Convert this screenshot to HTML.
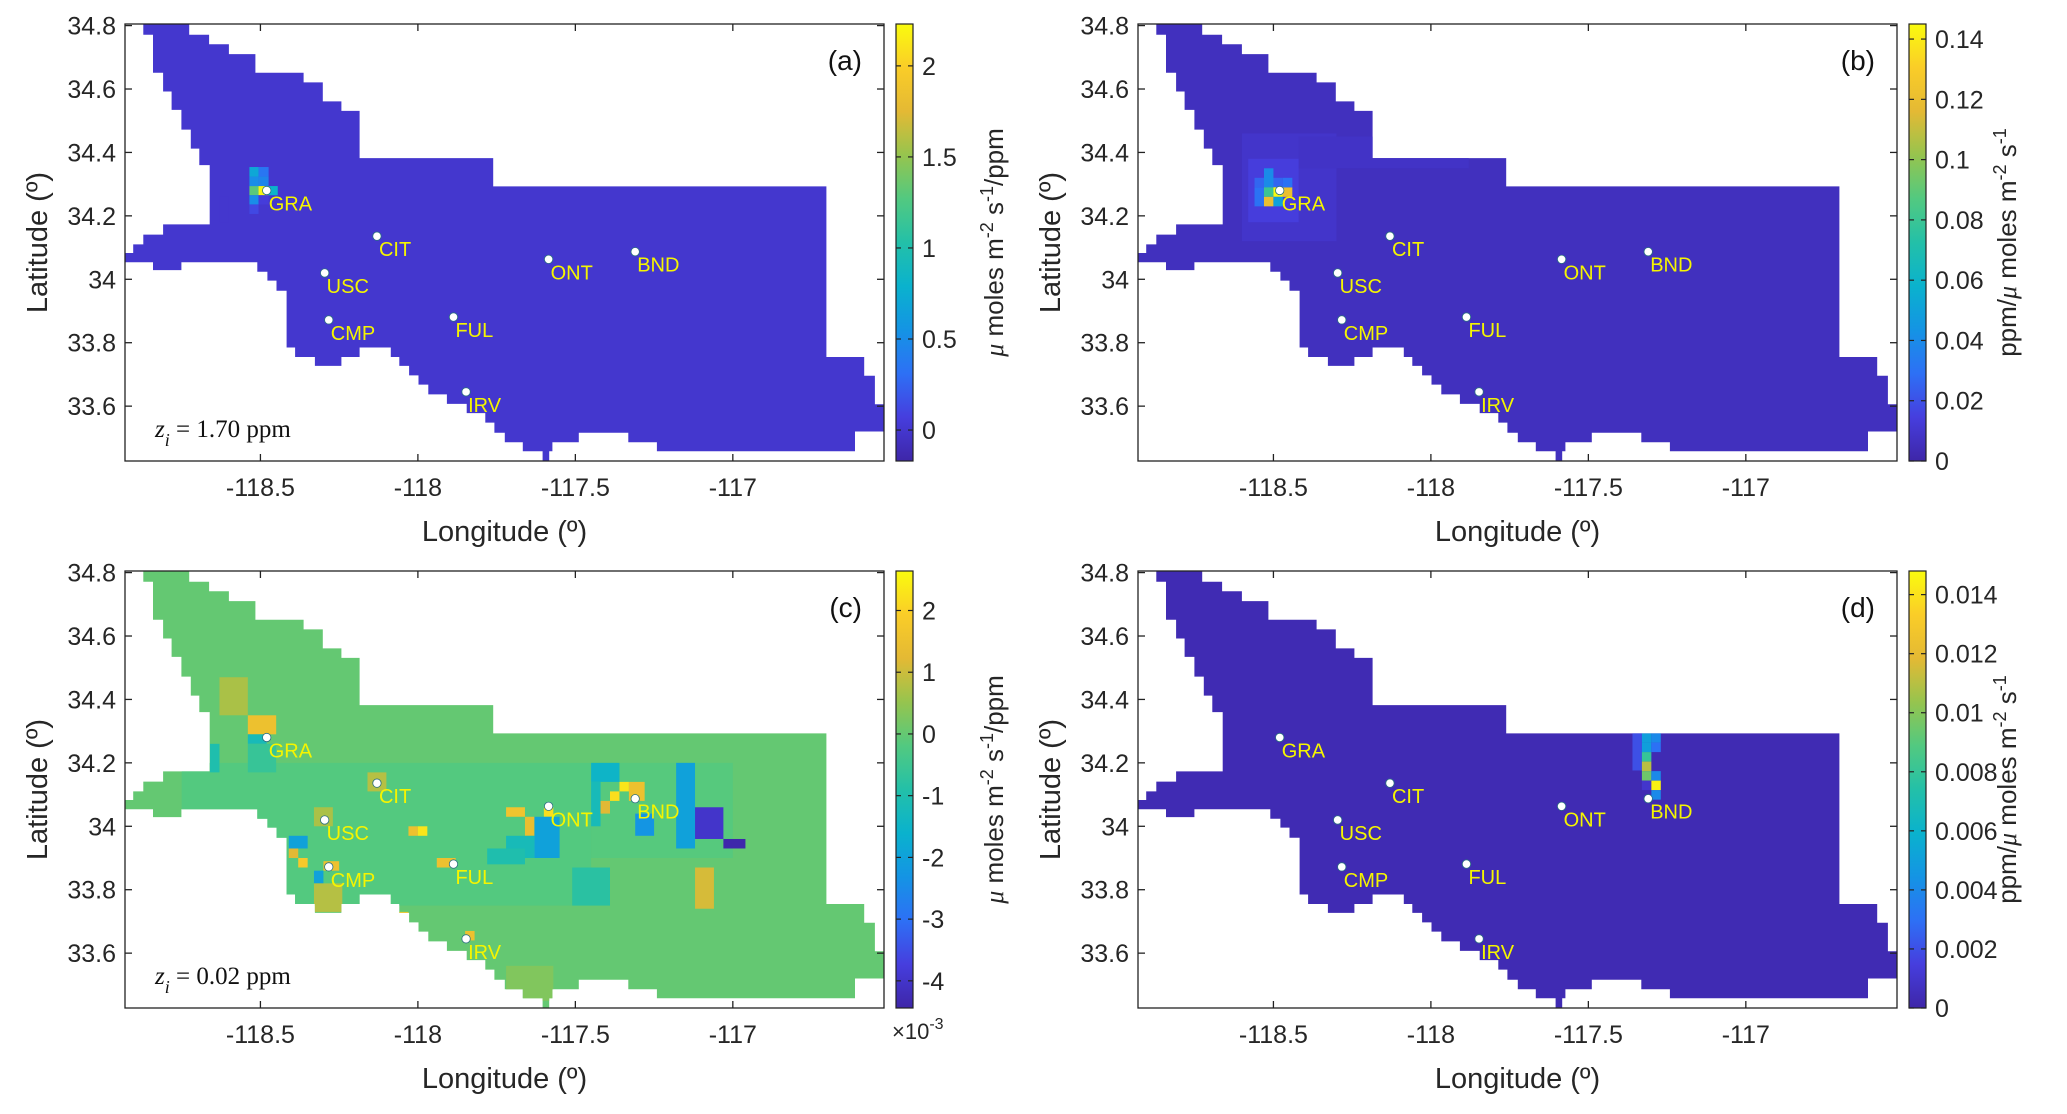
<!DOCTYPE html>
<html><head><meta charset="utf-8"><style>
html,body{margin:0;padding:0;background:#fff;}
svg{display:block;font-family:"Liberation Sans",Arial,sans-serif;}
</style></head><body>
<svg id="fig" width="2067" height="1114" viewBox="0 0 2067 1114"></svg>
<script>
// ---- data ----
const xTicks = [-118.5, -118, -117.5, -117];
const xTickLabels = ["-118.5", "-118", "-117.5", "-117"];
const yTicks = [33.6, 33.8, 34, 34.2, 34.4, 34.6, 34.8];
const yTickLabels = ["33.6", "33.8", "34", "34.2", "34.4", "34.6", "34.8"];
const boundaryLon = [-118.872,-118.726,-118.726,-118.663,-118.663,-118.600,-118.600,-118.516,-118.516,-118.363,-118.363,-118.302,-118.302,-118.243,-118.243,-118.185,-118.185,-117.761,-117.761,-116.703,-116.703,-116.583,-116.583,-116.549,-116.549,-116.520,-116.520,-116.612,-116.612,-117.241,-117.241,-117.332,-117.332,-117.489,-117.489,-117.573,-117.573,-117.583,-117.583,-117.604,-117.604,-117.667,-117.667,-117.724,-117.724,-117.757,-117.757,-117.786,-117.786,-117.845,-117.845,-117.908,-117.908,-117.967,-117.967,-117.998,-117.998,-118.028,-118.028,-118.059,-118.059,-118.086,-118.086,-118.185,-118.185,-118.243,-118.243,-118.327,-118.327,-118.390,-118.390,-118.417,-118.417,-118.449,-118.449,-118.478,-118.478,-118.510,-118.510,-118.751,-118.751,-118.841,-118.841,-118.930,-118.930,-118.904,-118.904,-118.872,-118.872,-118.809,-118.809,-118.661,-118.661,-118.694,-118.694,-118.721,-118.721,-118.751,-118.751,-118.782,-118.782,-118.809,-118.809,-118.841,-118.841,-118.872];
const boundaryLat = [34.805,34.805,34.771,34.771,34.741,34.741,34.710,34.710,34.651,34.651,34.621,34.621,34.561,34.561,34.531,34.531,34.382,34.382,34.293,34.293,33.755,33.755,33.696,33.696,33.606,33.606,33.520,33.520,33.458,33.458,33.486,33.486,33.516,33.516,33.486,33.486,33.458,33.458,33.427,33.427,33.458,33.458,33.486,33.486,33.516,33.516,33.548,33.548,33.578,33.578,33.607,33.607,33.637,33.637,33.668,33.668,33.697,33.697,33.727,33.727,33.755,33.755,33.785,33.785,33.755,33.755,33.727,33.727,33.755,33.755,33.785,33.785,33.964,33.964,33.996,33.996,34.024,34.024,34.054,34.054,34.029,34.029,34.054,34.054,34.083,34.083,34.110,34.110,34.141,34.141,34.173,34.173,34.360,34.360,34.412,34.412,34.472,34.472,34.534,34.534,34.592,34.592,34.651,34.651,34.771,34.771];
const siteNames = ["GRA","CIT","USC","ONT","BND","CMP","FUL","IRV"];
const siteLon = [-118.48,-118.13,-118.296,-117.585,-117.31,-118.283,-117.887,-117.847];
const siteLat = [34.28,34.136,34.02,34.063,34.087,33.872,33.881,33.645];

// cells: [lonMin, lonMax, latMin, latMax, value]
const cellsA = [
 [-118.535,-118.506,34.265,34.294,1.3],[-118.506,-118.474,34.265,34.294,2.2],[-118.474,-118.445,34.265,34.294,0.8],
 [-118.535,-118.506,34.294,34.324,0.5],[-118.506,-118.474,34.294,34.324,0.45],
 [-118.535,-118.506,34.324,34.354,0.7],[-118.506,-118.474,34.324,34.354,0.35],
 [-118.535,-118.506,34.236,34.265,0.5],[-118.506,-118.474,34.236,34.265,0.05],
 [-118.535,-118.506,34.206,34.236,0.12],[-118.63,-118.60,34.18,34.26,0.0]
];
const cellsB = [
 [-118.60,-118.30,34.12,34.46,0.009],[-118.42,-117.88,34.35,34.45,0.008],
 [-118.58,-118.42,34.18,34.38,0.014],[-118.56,-118.53,34.23,34.29,0.03],
 [-118.56,-118.47,34.29,34.32,0.026],[-118.53,-118.50,34.29,34.35,0.04],
 [-118.53,-118.50,34.26,34.29,0.08],[-118.50,-118.47,34.26,34.29,0.145],[-118.47,-118.44,34.26,34.29,0.12],
 [-118.53,-118.50,34.23,34.26,0.12],[-118.50,-118.47,34.23,34.26,0.05],[-118.47,-118.44,34.29,34.32,0.03]
];
const cellsC = [
 [-118.75,-117.45,33.75,34.2,-0.18],[-117.45,-117.0,33.9,34.2,-0.15],
 [-118.63,-118.54,34.35,34.47,0.7],[-118.54,-118.45,34.29,34.35,1.5],[-118.54,-118.48,34.26,34.29,-1.2],
 [-118.66,-118.63,34.17,34.26,-1.0],[-118.54,-118.45,34.17,34.26,-0.6],
 [-118.16,-118.10,34.11,34.17,0.8],[-118.33,-118.27,34.0,34.06,0.7],
 [-118.03,-118.00,33.97,34.0,1.5],[-118.00,-117.97,33.97,34.0,2.3],
 [-118.41,-118.35,33.93,33.97,-2.0],[-118.41,-118.38,33.90,33.93,1.2],[-118.38,-118.35,33.87,33.90,1.8],
 [-118.30,-118.25,33.86,33.89,1.5],[-118.33,-118.30,33.82,33.86,-2.0],[-118.33,-118.24,33.73,33.82,0.8],
 [-117.94,-117.88,33.87,33.9,1.5],[-118.06,-118.03,33.70,33.73,1.8],[-117.85,-117.82,33.64,33.67,1.5],
 [-117.72,-117.66,34.03,34.06,1.6],[-117.66,-117.63,33.97,34.03,1.4],[-117.60,-117.57,34.03,34.06,2.2],
 [-117.63,-117.55,33.90,34.03,-2.0],[-117.72,-117.63,33.90,33.97,-1.2],
 [-117.45,-117.36,34.14,34.20,-1.5],[-117.45,-117.42,34.00,34.14,-1.2],
 [-117.39,-117.36,34.08,34.11,2.2],[-117.36,-117.33,34.11,34.14,2.3],[-117.33,-117.28,34.08,34.14,1.5],
 [-117.42,-117.39,34.04,34.08,1.2],[-117.31,-117.25,33.97,34.04,-2.3],
 [-117.18,-117.12,33.93,34.20,-2.0],[-117.12,-117.03,33.96,34.06,-4.0],[-117.03,-116.96,33.93,33.96,-4.4],
 [-117.12,-117.06,33.74,33.87,1.1],[-117.51,-117.39,33.75,33.87,-0.8],[-117.78,-117.66,33.88,33.93,-1.0],
 [-117.72,-117.57,33.45,33.56,0.3]
];
const cellsD = [
 [-117.36,-117.33,34.176,34.294,0.002],
 [-117.33,-117.30,34.264,34.294,0.005],[-117.30,-117.27,34.264,34.294,0.004],
 [-117.33,-117.30,34.234,34.264,0.005],[-117.30,-117.27,34.234,34.264,0.003],
 [-117.33,-117.30,34.204,34.234,0.008],[-117.33,-117.30,34.174,34.204,0.011],
 [-117.33,-117.30,34.144,34.174,0.0095],[-117.30,-117.27,34.144,34.174,0.004],
 [-117.33,-117.30,34.114,34.144,0.001],[-117.30,-117.27,34.114,34.144,0.0145],
 [-117.30,-117.27,34.084,34.114,0.004]
];
const cbTicksA = [0,0.5,1,1.5,2], cbLabelsA = ["0","0.5","1","1.5","2"];
const cbTicksB = [0,0.02,0.04,0.06,0.08,0.1,0.12,0.14], cbLabelsB = ["0","0.02","0.04","0.06","0.08","0.1","0.12","0.14"];
const cbTicksC = [-4,-3,-2,-1,0,1,2], cbLabelsC = ["-4","-3","-2","-1","0","1","2"];
const cbTicksD = [0,0.002,0.004,0.006,0.008,0.01,0.012,0.014], cbLabelsD = ["0","0.002","0.004","0.006","0.008","0.01","0.012","0.014"];

// ---- drawing ----
const NS = "http://www.w3.org/2000/svg";
const svg = document.getElementById("fig");
const W = 759, H = 437, LON0 = -118.93, LON1 = -116.52, LAT0 = 33.427, LAT1 = 34.805;
const parula = [[0,62,38,168],[0.1,70,62,222],[0.2,45,112,245],[0.3,20,148,228],[0.4,10,178,205],[0.5,35,192,168],[0.6,82,201,128],[0.7,150,196,78],[0.8,228,185,52],[0.9,250,205,40],[1,249,251,14]];
function cmap(f){f=Math.max(0,Math.min(1,f));for(let i=1;i<parula.length;i++){if(f<=parula[i][0]){const a=parula[i-1],b=parula[i],t=(f-a[0])/(b[0]-a[0]);return "rgb("+[1,2,3].map(k=>Math.round(a[k]+t*(b[k]-a[k]))).join(",")+")";}}return "rgb(249,251,14)";}
function el(tag, attrs, parent){const e=document.createElementNS(NS,tag);for(const k in attrs)e.setAttribute(k,attrs[k]);(parent||svg).appendChild(e);return e;}

function panel(id, L, T, cells, base, cmin, cmax, cbT, cbL, cbLabel, letter, note, exp){
  const g = el("g",{});
  
  
  const sx = v => L + (v-LON0)/(LON1-LON0)*W;
  const sy = v => T + (LAT1-v)/(LAT1-LAT0)*H;
  const col = v => cmap((v-cmin)/(cmax-cmin));
  const cp = el("clipPath",{id:"clip-"+id}, g);
  const pts = boundaryLon.map((x,i)=>sx(x).toFixed(1)+","+sy(boundaryLat[i]).toFixed(1)).join(" ");
  el("polygon",{points:pts}, cp);
  const dom = el("polygon",{points:pts, fill:col(base)}, g);
  
  
  const cg = el("g",{"clip-path":"url(#clip-"+id+")"}, g);
  cells.forEach(c=>{
    const r = el("rect",{x:sx(c[0]),y:sy(c[3]),width:sx(c[1])-sx(c[0]),height:sy(c[2])-sy(c[3]),fill:col(c[4])}, cg);
    
    
  });
  siteNames.forEach((n,i)=>{
    const d = el("circle",{cx:sx(siteLon[i]),cy:sy(siteLat[i]),r:4.2,fill:"#fff",stroke:"#2a6f80","stroke-width":0.8}, g);
    
    
    const t = el("text",{x:sx(siteLon[i])+2,y:sy(siteLat[i])+20,fill:"#f5f500","font-size":20}, g);
    t.textContent = n;
    
    
  });
  const box = el("rect",{x:L,y:T,width:W,height:H,fill:"none",stroke:"#222","stroke-width":1.3}, g);
  
  
  xTicks.forEach((v,i)=>{
    el("line",{x1:sx(v),x2:sx(v),y1:T+H,y2:T+H-7,stroke:"#222","stroke-width":1.3}, g);
    el("line",{x1:sx(v),x2:sx(v),y1:T,y2:T+7,stroke:"#222","stroke-width":1.3}, g);
    const t = el("text",{x:sx(v),y:T+H+35,"text-anchor":"middle","font-size":25,fill:"#262626"}, g);
    t.textContent = xTickLabels[i];
    
    
  });
  yTicks.forEach((v,i)=>{
    el("line",{x1:L,x2:L+7,y1:sy(v),y2:sy(v),stroke:"#222","stroke-width":1.3}, g);
    el("line",{x1:L+W,x2:L+W-7,y1:sy(v),y2:sy(v),stroke:"#222","stroke-width":1.3}, g);
    const t = el("text",{x:L-9,y:sy(v)+9,"text-anchor":"end","font-size":25,fill:"#262626"}, g);
    t.textContent = yTickLabels[i];
    
    
  });
  const xl = el("text",{x:L+W/2,y:T+H+80,"text-anchor":"middle","font-size":29,fill:"#262626"}, g);
  xl.textContent = "Longitude (º)";
  
  
  const yl = el("text",{x:0,y:0,"text-anchor":"middle","font-size":29,fill:"#262626",transform:"translate("+(L-78)+","+(T+H/2)+") rotate(-90)"}, g);
  yl.textContent = "Latitude  (º)";
  
  
  const lt = el("text",{x:L+737,y:T+46,"text-anchor":"end","font-size":28,fill:"#111"}, g);
  lt.textContent = letter;
  
  
  if(note){
    const nt = el("text",{x:L+30,y:T+413,"font-size":25,fill:"#111","font-family":"Liberation Serif, serif"}, g);
    nt.innerHTML = '<tspan font-style="italic">z</tspan><tspan font-style="italic" font-size="18" dy="9">i</tspan><tspan dy="-9"> = '+note+'</tspan>';
    
    
  }
  const cx = L+771, cw = 17;
  const gid = "grad-"+id;
  const defs = el("defs",{}, g);
  const lg = el("linearGradient",{id:gid,x1:0,y1:1,x2:0,y2:0}, defs);
  for(let i=0;i<=20;i++){el("stop",{offset:i/20,"stop-color":cmap(i/20)}, lg);}
  const cb = el("rect",{x:cx,y:T,width:cw,height:H,fill:"url(#"+gid+")",stroke:"#222","stroke-width":1.2}, g);
  
  
  const cy = v => T + (cmax-v)/(cmax-cmin)*H;
  cbT.forEach((v,i)=>{
    el("line",{x1:cx,x2:cx+5,y1:cy(v),y2:cy(v),stroke:"#222","stroke-width":1.2}, g);
    el("line",{x1:cx+cw,x2:cx+cw-5,y1:cy(v),y2:cy(v),stroke:"#222","stroke-width":1.2}, g);
    const t = el("text",{x:cx+26,y:cy(v)+9,"font-size":25,fill:"#262626"}, g);
    t.textContent = cbL[i];
    
    
  });
  const cl = el("text",{x:0,y:0,"text-anchor":"middle","font-size":26,fill:"#262626",transform:"translate("+(L+878)+","+(T+H/2)+") rotate(-90)"}, g);
  cl.innerHTML = cbLabel;
  
  
  if(exp){
    const ex = el("text",{x:cx-4,y:T+H+31,"font-size":22,fill:"#262626"}, g);
    ex.innerHTML = '×10<tspan font-size="16" dy="-10">-3</tspan>';
    
    
  }
}
const lblFlux = '<tspan font-family="Liberation Serif, serif" font-style="italic">μ</tspan> moles m<tspan font-size="18" dy="-10">-2</tspan><tspan dy="10"> s</tspan><tspan font-size="18" dy="-10">-1</tspan><tspan dy="10">/ppm</tspan>';
const lblSens = 'ppm/<tspan font-family="Liberation Serif, serif" font-style="italic">μ</tspan> moles m<tspan font-size="18" dy="-10">-2</tspan><tspan dy="10"> s</tspan><tspan font-size="18" dy="-10">-1</tspan>';
panel("a",125,24,cellsA,0.0,-0.17,2.23,cbTicksA,cbLabelsA,lblFlux,"(a)","1.70 ppm",false);
panel("b",1138,24,cellsB,0.006,0,0.145,cbTicksB,cbLabelsB,lblSens,"(b)",null,false);
panel("c",125,571,cellsC,0.0,-4.44,2.64,cbTicksC,cbLabelsC,lblFlux,"(c)","0.02 ppm",true);
panel("d",1138,571,cellsD,0.0003,0,0.0148,cbTicksD,cbLabelsD,lblSens,"(d)",null,false);
</script>
</body></html>
